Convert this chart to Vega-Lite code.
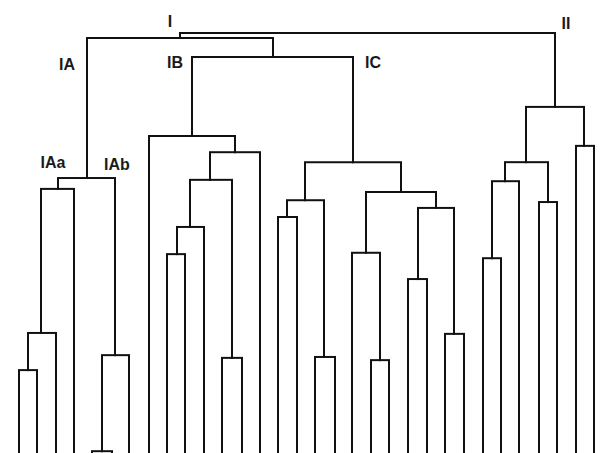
{
  "$schema": "https://vega.github.io/schema/vega-lite/v6.json",
  "width": 604,
  "height": 453,
  "autosize": "none",
  "padding": 0,
  "background": "white",
  "config": {"view": {"stroke": null}},
  "datasets": {
    "edges": [
      {"px": 367, "ph": 92.7, "cx": 180, "ch": 91.6},
      {"px": 367, "ph": 92.7, "cx": 555, "ch": 76.4},
      {"px": 180, "ph": 91.6, "cx": 87, "ch": 60.7},
      {"px": 180, "ph": 91.6, "cx": 273, "ch": 87.4},
      {"px": 273, "ph": 87.4, "cx": 192, "ch": 70.0},
      {"px": 273, "ph": 87.4, "cx": 353, "ch": 64.2},
      {"px": 87, "ph": 60.7, "cx": 58, "ch": 58.3},
      {"px": 87, "ph": 60.7, "cx": 115, "ch": 21.6},
      {"px": 58, "ph": 58.3, "cx": 41, "ch": 26.5},
      {"px": 58, "ph": 58.3, "cx": 74, "ch": 0},
      {"px": 41, "ph": 26.5, "cx": 28, "ch": 18.3},
      {"px": 41, "ph": 26.5, "cx": 56, "ch": 0},
      {"px": 28, "ph": 18.3, "cx": 19, "ch": 0},
      {"px": 28, "ph": 18.3, "cx": 37, "ch": 0},
      {"px": 115, "ph": 21.6, "cx": 102, "ch": 0.4},
      {"px": 115, "ph": 21.6, "cx": 129, "ch": 0},
      {"px": 102, "ph": 0.4, "cx": 92, "ch": 0},
      {"px": 102, "ph": 0.4, "cx": 112, "ch": 0},
      {"px": 192, "ph": 70.0, "cx": 149, "ch": 0},
      {"px": 192, "ph": 70.0, "cx": 235, "ch": 66.4},
      {"px": 235, "ph": 66.4, "cx": 210, "ch": 60.3},
      {"px": 235, "ph": 66.4, "cx": 260, "ch": 0},
      {"px": 210, "ph": 60.3, "cx": 190, "ch": 49.9},
      {"px": 210, "ph": 60.3, "cx": 232, "ch": 21.0},
      {"px": 232, "ph": 21.0, "cx": 222, "ch": 0},
      {"px": 232, "ph": 21.0, "cx": 242, "ch": 0},
      {"px": 190, "ph": 49.9, "cx": 177, "ch": 43.9},
      {"px": 190, "ph": 49.9, "cx": 204, "ch": 0},
      {"px": 177, "ph": 43.9, "cx": 167, "ch": 0},
      {"px": 177, "ph": 43.9, "cx": 185, "ch": 0},
      {"px": 353, "ph": 64.2, "cx": 305, "ch": 55.8},
      {"px": 353, "ph": 64.2, "cx": 401, "ch": 57.6},
      {"px": 305, "ph": 55.8, "cx": 287, "ch": 52.1},
      {"px": 305, "ph": 55.8, "cx": 324, "ch": 21.2},
      {"px": 287, "ph": 52.1, "cx": 278, "ch": 0},
      {"px": 287, "ph": 52.1, "cx": 297, "ch": 0},
      {"px": 324, "ph": 21.2, "cx": 315, "ch": 0},
      {"px": 324, "ph": 21.2, "cx": 335, "ch": 0},
      {"px": 401, "ph": 57.6, "cx": 366, "ch": 44.2},
      {"px": 401, "ph": 57.6, "cx": 436, "ch": 54.1},
      {"px": 366, "ph": 44.2, "cx": 352, "ch": 0},
      {"px": 366, "ph": 44.2, "cx": 380, "ch": 20.5},
      {"px": 380, "ph": 20.5, "cx": 371, "ch": 0},
      {"px": 380, "ph": 20.5, "cx": 389, "ch": 0},
      {"px": 436, "ph": 54.1, "cx": 418, "ch": 38.4},
      {"px": 436, "ph": 54.1, "cx": 454, "ch": 26.3},
      {"px": 418, "ph": 38.4, "cx": 408, "ch": 0},
      {"px": 418, "ph": 38.4, "cx": 427, "ch": 0},
      {"px": 454, "ph": 26.3, "cx": 445, "ch": 0},
      {"px": 454, "ph": 26.3, "cx": 464, "ch": 0},
      {"px": 555, "ph": 76.4, "cx": 526, "ch": 64.2},
      {"px": 555, "ph": 76.4, "cx": 584, "ch": 67.8},
      {"px": 584, "ph": 67.8, "cx": 576, "ch": 0},
      {"px": 584, "ph": 67.8, "cx": 594, "ch": 0},
      {"px": 526, "ph": 64.2, "cx": 505, "ch": 60.0},
      {"px": 526, "ph": 64.2, "cx": 548, "ch": 55.4},
      {"px": 505, "ph": 60.0, "cx": 492, "ch": 43.0},
      {"px": 505, "ph": 60.0, "cx": 519, "ch": 0},
      {"px": 492, "ph": 43.0, "cx": 483, "ch": 0},
      {"px": 492, "ph": 43.0, "cx": 501, "ch": 0},
      {"px": 548, "ph": 55.4, "cx": 539, "ch": 0},
      {"px": 548, "ph": 55.4, "cx": 557, "ch": 0}
    ],
    "labels": [
      {"label": "I", "lx": 170, "lh": 95.1},
      {"label": "II", "lx": 566, "lh": 94.7},
      {"label": "IA", "lx": 67, "lh": 85.7},
      {"label": "IB", "lx": 175, "lh": 86.1},
      {"label": "IC", "lx": 373, "lh": 86.1},
      {"label": "IAa", "lx": 53, "lh": 64.0},
      {"label": "IAb", "lx": 117, "lh": 63.6}
    ]
  },
  "layer": [
    {
      "data": {"name": "edges"},
      "mark": {"type": "rule", "color": "#111111", "strokeWidth": 2, "strokeCap": "square"},
      "encoding": {
        "x": {"field": "px", "type": "quantitative", "scale": {"domain": [0, 604], "nice": false, "zero": false}, "axis": null},
        "x2": {"field": "cx"},
        "y": {"field": "ph", "type": "quantitative", "scale": {"domain": [0, 100], "nice": false, "zero": false}, "axis": null}
      }
    },
    {
      "data": {"name": "edges"},
      "mark": {"type": "rule", "color": "#111111", "strokeWidth": 2},
      "encoding": {
        "x": {"field": "cx", "type": "quantitative"},
        "y": {"field": "ph", "type": "quantitative"},
        "y2": {"field": "ch"}
      }
    },
    {
      "data": {"name": "labels"},
      "mark": {"type": "text", "font": "Liberation Sans", "fontWeight": "bold", "fontSize": 16, "color": "#1a1a1a", "align": "center", "baseline": "middle"},
      "encoding": {
        "x": {"field": "lx", "type": "quantitative"},
        "y": {"field": "lh", "type": "quantitative"},
        "text": {"field": "label"}
      }
    }
  ]
}
